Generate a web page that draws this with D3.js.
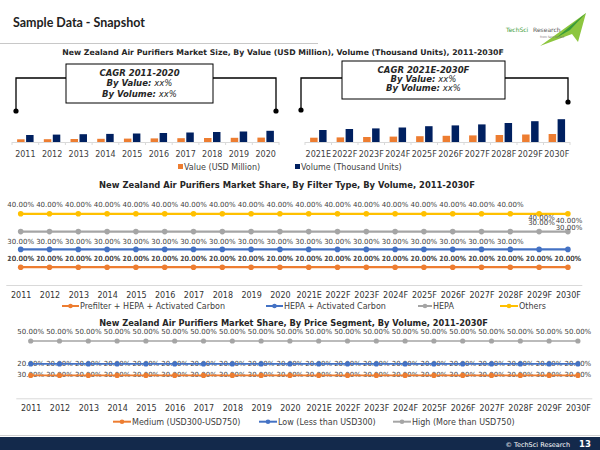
<!DOCTYPE html>
<html><head><meta charset="utf-8">
<script src="https://cdn.jsdelivr.net/npm/d3@7"></script>
<style>body{margin:0;background:#fff}svg{display:block}</style>
</head><body><svg id="c" width="600" height="450"></svg>
<script>
// ---------- data ----------
const years1 = ["2011","2012","2013","2014","2015","2016","2017","2018","2019","2020"];
const years2 = ["2021E","2022F","2023F","2024F","2025F","2026F","2027F","2028F","2029F","2030F"];
const years = years1.concat(years2);
const valueUSD = [27,28,30,32,34,36,38,40,42,44, 43,46,50,54,58,62,66,70,75,80];
const volumeTU = [70,74,78,81,85,90,95,100,105,112, 120,130,136,145,158,166,176,190,208,228];
const barSeries = ["Value (USD Million)","Volume (Thousand Units)"];

const filterNames = ["Prefilter + HEPA + Activated Carbon","HEPA + Activated Carbon","HEPA","Others"];
const prefilter = [10,10,10,10,10,10,10,10,10,10,10,10,10,10,10,10,10,10,10,10];
const hepaAC    = [20,20,20,20,20,20,20,20,20,20,20,20,20,20,20,20,20,20,20,20];
const hepa      = [30,30,30,30,30,30,30,30,30,30,30,30,30,30,30,30,30,30,30,30];
const others    = [40,40,40,40,40,40,40,40,40,40,40,40,40,40,40,40,40,40,40,40];

const priceNames = ["Medium (USD300-USD750)","Low (Less than USD300)","High (More than USD750)"];
const medium = [20,20,20,20,20,20,20,20,20,20,20,20,20,20,20,20,20,20,20,20];
const low    = [30,30,30,30,30,30,30,30,30,30,30,30,30,30,30,30,30,30,30,30];
const high   = [50,50,50,50,50,50,50,50,50,50,50,50,50,50,50,50,50,50,50,50];

// ---------- setup ----------
const svg = d3.select("#c");
const F = "DejaVu Sans, Verdana, sans-serif";
const C = {orange:"#ED7D31", navy:"#002060", blue:"#4472C4", gray:"#A5A5A5", yellow:"#FFC000", txt:"#404040"};
const fmt = d => d.toFixed(2) + "%";

function fitText(t, w){ const n=t.node(); const L=n.getComputedTextLength(); if(L>0){ const fs=parseFloat(t.attr("font-size")); t.attr("font-size", fs*w/L);} return t; }

// header
fitText(svg.append("text").attr("x",13).attr("y",26.5).attr("font-family","Lato, Open Sans, sans-serif")
  .attr("font-weight",700).attr("font-size",14).attr("fill","#222").text("Sample Data - Snapshot"), 132);
svg.append("line").attr("x1",0).attr("x2",318).attr("y1",43.5).attr("y2",43.5).attr("stroke","#c8c8c8").attr("stroke-width",1);

// logo
svg.append("path").attr("d","M540,46 L586,13 L578,42 L572,34 Z").attr("fill","#8dc63f");
svg.append("path").attr("d","M556,38 L586,13 L570,30 Z").attr("fill","#3a9b3a");
svg.append("text").attr("x",506).attr("y",32).attr("font-family",F).attr("font-size",6).attr("fill","#3a9b3a").text("TechSci");
svg.append("text").attr("x",533).attr("y",32).attr("font-family",F).attr("font-size",6).attr("fill","#555").text("Research");
svg.append("text").attr("x",540).attr("y",38).attr("font-family",F).attr("font-size",3).attr("fill","#777").text("from fact to fact");

// ---------- chart 1 ----------
fitText(svg.append("text").attr("x",283).attr("y",54.5).attr("text-anchor","middle").attr("font-family",F)
  .attr("font-weight",700).attr("font-size",8).attr("fill","#262626")
  .text("New Zealand Air Purifiers Market Size, By Value (USD Million), Volume (Thousand Units), 2011-2030F"), 442);

const y1 = d3.scaleLinear().domain([0,300]).range([142,112]);
const xL = d3.scaleBand().domain(years1).range([12,279]);
const xR = d3.scaleBand().domain(years2).range([305,570]);
const inner = d3.scaleBand().domain(barSeries).range([0,xL.bandwidth()]).paddingInner(1/6).paddingOuter(0.57);
const barData = years.map((y,i)=>({year:y, vals:[valueUSD[i], volumeTU[i]]}));

function barPanel(xs, data){
  const g = svg.append("g");
  g.append("line").attr("x1",xs.range()[0]).attr("x2",xs.range()[1]).attr("y1",y1(0)+0.5).attr("y2",y1(0)+0.5).attr("stroke","#d9d9d9");
  xs.domain().forEach(d=>{ g.append("line").attr("x1",xs(d)).attr("x2",xs(d)).attr("y1",y1(0)).attr("y2",y1(0)+3).attr("stroke","#d9d9d9"); });
  g.append("line").attr("x1",xs.range()[1]).attr("x2",xs.range()[1]).attr("y1",y1(0)).attr("y2",y1(0)+3).attr("stroke","#d9d9d9");
  data.forEach(d=>{
    d.vals.forEach((v,j)=>{
      g.append("rect").attr("x",xs(d.year)+inner(barSeries[j])).attr("width",inner.bandwidth())
        .attr("y",y1(v)).attr("height",y1(0)-y1(v)).attr("fill",j?C.navy:C.orange);
    });
  });
  const ax = svg.append("g").attr("transform",`translate(0,${y1(0)})`).call(d3.axisBottom(xs).tickSize(0).tickPadding(9));
  ax.select(".domain").remove();
  ax.selectAll("text").attr("font-family",F).attr("font-size",8).attr("fill",C.txt);
}
barPanel(xL, barData.slice(0,10));
barPanel(xR, barData.slice(10));

// brackets & CAGR boxes
const br = svg.append("g").attr("stroke","#000").attr("stroke-width",1.3).attr("fill","none");
br.append("path").attr("d","M16,111 V78 H66 M213,78 H276 V111");
br.append("path").attr("d","M301,110 V78 H342 M505,78 H568 V102");
[[16,111],[276,111],[301,110],[568,102]].forEach(p=>svg.append("circle").attr("cx",p[0]).attr("cy",p[1]).attr("r",2.6).attr("fill","#000"));
svg.append("rect").attr("x",66).attr("y",64).attr("width",147).attr("height",39).attr("fill","#fff").attr("stroke","#000").attr("stroke-width",1);
svg.append("rect").attr("x",342).attr("y",61).attr("width",163).attr("height",38).attr("fill","#fff").attr("stroke","#000").attr("stroke-width",1);
function cagr(cx, ys, period){
  const lines = [[ "CAGR " + period, ""],["By Value: ","xx%"],["By Volume: ","xx%"]];
  lines.forEach((l,i)=>{
    const t = svg.append("text").attr("x",cx).attr("y",ys[i]).attr("text-anchor","middle").attr("font-family",F)
      .attr("font-size",8.5).attr("font-style","italic").attr("fill","#262626");
    t.append("tspan").attr("font-weight",700).text(l[0]);
    if(l[1]) t.append("tspan").text(l[1]);
  });
}
cagr(139.5,[75.5,85.5,96.5],"2011-2020");
cagr(423.5,[73,82,91],"2021E-2030F");

// legend 1
svg.append("rect").attr("x",178).attr("y",164).attr("width",5).attr("height",5).attr("fill",C.orange);
svg.append("text").attr("x",184).attr("y",169.5).attr("font-family",F).attr("font-size",8).attr("fill",C.txt).text(barSeries[0]);
svg.append("rect").attr("x",295).attr("y",164).attr("width",5).attr("height",5).attr("fill",C.navy);
svg.append("text").attr("x",301).attr("y",169.5).attr("font-family",F).attr("font-size",8).attr("fill",C.txt).text(barSeries[1]);

// ---------- line chart helper ----------
function linePanel(opt){
  const x = d3.scalePoint().domain(years).range([opt.x0+opt.step/2, opt.x0+opt.step*19.5]);
  const y = d3.scaleLinear().domain([0,opt.ymax]).range([opt.base, opt.base-opt.ppu*opt.ymax]);
  svg.append("line").attr("x1",opt.x0).attr("x2",opt.x0+opt.step*20).attr("y1",opt.base+0.5).attr("y2",opt.base+0.5).attr("stroke","#d9d9d9");
  const ax = svg.append("g").attr("transform",`translate(0,${opt.base})`).call(d3.axisBottom(x).tickSize(0).tickPadding(opt.tickPad));
  ax.select(".domain").remove();
  ax.selectAll("text").attr("font-family",F).attr("font-size",8).attr("fill","#333");
  const line = d3.line().x((d,i)=>x(years[i])).y(d=>y(d));
  const glab = svg.append("g");
  opt.series.forEach(s=>{
    s.vals.forEach((v,i)=>{
      let lx = x(years[i]), ly = y(v)+s.dy;
      if(s.special && s.special[i]){ lx = s.special[i][0]; ly = s.special[i][1]; }
      glab.append("text").attr("x",lx).attr("y",ly).attr("dy","0.35em").attr("text-anchor","middle")
        .attr("font-family",F).attr("font-size",7).attr("fill",C.txt).text(fmt(v));
    });
  });
  const gLines = svg.append("g");
  opt.series.forEach(s=>{
    gLines.append("path").attr("d",line(s.vals)).attr("fill","none").attr("stroke",s.color).attr("stroke-width",opt.lw);
    s.vals.forEach((v,i)=>gLines.append("circle").attr("cx",x(years[i])).attr("cy",y(v)).attr("r",opt.r).attr("fill",s.color));
  });
  if(!opt.labelsUnder) glab.raise();
  opt.legend.forEach((l,i)=>{
    const s = opt.series[i];
    svg.append("line").attr("x1",l[0]).attr("x2",l[1]).attr("y1",opt.legY).attr("y2",opt.legY).attr("stroke",s.color).attr("stroke-width",2);
    svg.append("circle").attr("cx",(l[0]+l[1])/2).attr("cy",opt.legY).attr("r",2.3).attr("fill",s.color);
    svg.append("text").attr("x",l[1]+1).attr("y",opt.legY).attr("dy","0.35em").attr("font-family",F).attr("font-size",8).attr("fill",C.txt).text(s.name);
  });
}

// ---------- chart 2 ----------
fitText(svg.append("text").attr("x",287).attr("y",187.5).attr("text-anchor","middle").attr("font-family",F)
  .attr("font-weight",700).attr("font-size",8).attr("fill","#262626")
  .text("New Zealand Air Purifiers Market  Share, By Filter Type, By Volume, 2011-2030F"), 376);
linePanel({
  x0:6.3, step:28.8, base:285, ymax:50, ppu:1.78, tickPad:7, lw:2.2, r:2.8, legY:306, labelsUnder:false,
  series:[
    {name:filterNames[0], vals:prefilter, color:C.orange, dy:-9},
    {name:filterNames[1], vals:hepaAC, color:C.blue, dy:9},
    {name:filterNames[2], vals:hepa, color:C.gray, dy:9.5, special:{18:[541.5,223],19:[569,228]}},
    {name:filterNames[3], vals:others, color:C.yellow, dy:-9.5, special:{18:[541.5,218],19:[569,221]}}
  ],
  legend:[[62,79],[266,283],[418,432],[500,518]]
});

// ---------- chart 3 ----------
fitText(svg.append("text").attr("x",293.5).attr("y",325.5).attr("text-anchor","middle").attr("font-family",F)
  .attr("font-weight",700).attr("font-size",8).attr("fill","#262626")
  .text("New Zealand Air Purifiers Market Share, By Price Segment, By Volume, 2011-2030F"), 389);
linePanel({
  x0:16.3, step:28.8, base:398.3, ymax:60, ppu:1.146, tickPad:7, lw:1.6, r:2.6, legY:421.7, labelsUnder:true,
  series:[
    {name:priceNames[0], vals:medium, color:C.orange, dy:-12},
    {name:priceNames[1], vals:low, color:C.blue, dy:11},
    {name:priceNames[2], vals:high, color:C.gray, dy:-9}
  ],
  legend:[[113,131],[259,277],[393,411]]
});

// ---------- footer ----------
svg.append("line").attr("x1",0).attr("x2",600).attr("y1",435.5).attr("y2",435.5).attr("stroke","#d0d0d0");
svg.append("rect").attr("x",0).attr("y",437).attr("width",600).attr("height",13).attr("fill","#13294B");
svg.append("text").attr("x",570).attr("y",446.5).attr("text-anchor","end").attr("font-family",F).attr("font-size",6.5).attr("fill","#fff").text("© TechSci Research");
svg.append("text").attr("x",579).attr("y",447).attr("font-family",F).attr("font-weight",700).attr("font-size",8.5).attr("fill","#fff").text("13");
</script></body></html>
